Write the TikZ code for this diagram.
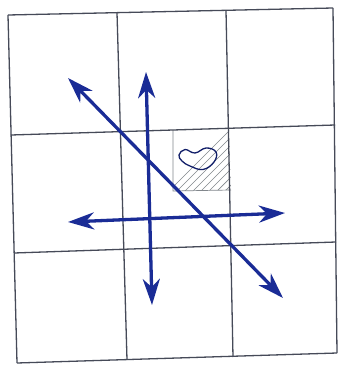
\documentclass[tikz,border=0pt]{standalone}
\usetikzlibrary{arrows.meta}
\definecolor{arrowblue}{RGB}{26,44,150}
\definecolor{gridgray}{RGB}{70,74,88}
\definecolor{hatchgray}{RGB}{130,135,140}
\begin{document}
\begin{tikzpicture}[x=1pt,y=-1pt,
  gridline/.style={draw=gridgray,line width=1.3pt},
  bluearrow/.style={draw=arrowblue,line width=3.3pt,
    {Stealth[length=26pt,width=17pt,inset=8pt]}-{Stealth[length=26pt,width=17pt,inset=8pt]}},
  hatchline/.style={draw=hatchgray,line width=0.7pt},
  blob/.style={draw=arrowblue!70!black,line width=1.3pt}]
\useasboundingbox (0,0) rectangle (339,367);
\fill[white] (0,0) rectangle (339,367);
% hatched square
\begin{scope}
  \clip (173,130) -- (229,128.5) -- (231,190) -- (173,191) -- cycle;
  \foreach \k in {0,8,...,130} {
    \draw[hatchline] (160+\k,200) -- (160+\k+80,120);
  }
\end{scope}
\draw[hatchline] (173,130) -- (173,191) -- (231,190);
% grid
\draw[gridline] (8,15) -- (333,8);
\draw[gridline] (11,135) -- (335,125);
\draw[gridline] (14,253) -- (336,242);
\draw[gridline] (17,363) -- (337,353);
\draw[gridline] (8,15) -- (17,363);
\draw[gridline] (117,12.6) -- (127,360);
\draw[gridline] (226,10.3) -- (233,357);
\draw[gridline] (333,8) -- (337,353);
% blob
\draw[blob] plot[smooth cycle, tension=0.7] coordinates {
  (179,155) (185,149.5) (195,153) (206,148) (216,152)
  (214,162) (203,169.5) (190,166) (182,161)};
% arrows
\coordinate (d1) at (68,78);
\coordinate (d2) at (283,298);
\coordinate (v1) at (146,72);
\coordinate (v2) at (152,305);
\coordinate (h1) at (68,222);
\coordinate (h2) at (285,213);
\draw[bluearrow] (d1) -- (d2);
\draw[bluearrow] (v1) -- (v2);
\draw[bluearrow] (h1) -- (h2);
\end{tikzpicture}
\end{document}
